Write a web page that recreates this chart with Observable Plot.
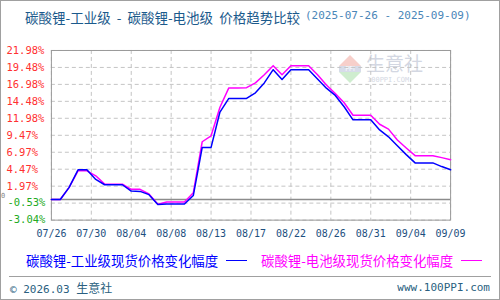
<!DOCTYPE html>
<html><head><meta charset="utf-8">
<script src="https://cdn.jsdelivr.net/npm/d3@7"></script>
<script src="https://cdn.jsdelivr.net/npm/@observablehq/plot@0.6"></script>
<style>
body{margin:0;background:#fff;}
#wrap{position:relative;width:500px;height:300px;box-sizing:border-box;border:1px solid #a0a0a0;overflow:hidden;font-family:"Noto Sans CJK SC",sans-serif;}
.abs{position:absolute;white-space:nowrap;}
#t1{left:24px;top:6px;font-size:13.5px;color:#1b5a8c;word-spacing:3px;}
#t2{left:304px;top:8px;font-family:"DejaVu Sans Mono",monospace;font-size:11px;color:#4a86b8;}
#chart{position:absolute;left:-1px;top:39px;}
.lg{top:249px;font-size:13.4px;}
.ln{top:259px;width:21px;height:0;border-top:1px solid;}
#sep{position:absolute;left:8px;right:8px;top:275px;border-top:1px solid #a0a0a0;}
#foot1{left:9px;top:278px;font-size:11px;color:#2a5f80;font-family:"DejaVu Sans Mono",monospace;}
#foot1 .c{font-family:"Noto Sans CJK SC";font-size:12px;}
#foot2{right:9px;top:280px;font-size:11px;color:#2a5f80;font-family:"DejaVu Sans Mono",monospace;}
#wm{position:absolute;left:338px;top:54px;opacity:0.55;}
#wm .up{position:absolute;left:0;top:0;width:0;height:0;border-left:11px solid transparent;border-right:11px solid transparent;border-bottom:11px solid #f2a8a0;}
#wm .box{position:absolute;left:0;top:11px;width:22px;height:6px;background:#b8c0d8;font-size:6px;color:#fff;text-align:center;line-height:6px;}
#wm .dn{position:absolute;left:0;top:17px;width:0;height:0;border-left:11px solid transparent;border-right:11px solid transparent;border-top:11px solid #a8e0a8;}
#wm .t{position:absolute;left:27px;top:-3px;font-size:19px;line-height:22px;color:#b0b8cc;white-space:nowrap;}
#wm .s{position:absolute;left:28px;top:21px;font-size:7px;line-height:8px;color:#b0b8cc;font-family:"DejaVu Sans Mono";white-space:nowrap;}
</style></head>
<body>
<div id="wrap">
<div id="t1" class="abs">碳酸锂-工业级 - 碳酸锂-电池级 价格趋势比较</div>
<div id="t2" class="abs">(2025-07-26 - 2025-09-09)</div>
<div id="wm"><div class="up"></div><div class="box">PPI</div><div class="dn"></div><div class="t">生意社</div><div class="s">100PPI.COM</div></div>
<div id="chart"></div>
<div class="abs lg" style="left:25px;color:#0000ff">碳酸锂-工业级现货价格变化幅度</div>
<div class="abs ln" style="left:225px;border-color:#0000ff"></div>
<div class="abs lg" style="left:260px;color:#ff00ff">碳酸锂-电池级现货价格变化幅度</div>
<div class="abs ln" style="left:460px;border-color:#ff00ff"></div>
<div id="sep"></div>
<div id="foot1" class="abs">© 2026.03 <span class="c">生意社</span></div>
<div id="foot2" class="abs">www.100PPI.com</div>
</div>
<script>
const dates = ["07/26","07/27","07/28","07/29","07/30","07/31","08/01","08/02","08/03","08/04","08/05","08/06","08/07","08/08","08/09","08/10","08/11","08/12","08/13","08/14","08/15","08/16","08/17","08/18","08/19","08/20","08/21","08/22","08/23","08/24","08/25","08/26","08/27","08/28","08/29","08/30","08/31","09/01","09/02","09/03","09/04","09/05","09/06","09/07","09/08","09/09"];
const industrial = [0,0,1.8,4.38,4.38,2.96,2.18,2.18,2.18,1.25,1.2,0.72,-0.74,-0.66,-0.66,-0.66,0.6,7.69,7.69,12.9,14.91,14.91,14.91,15.73,17.2,19.15,17.69,19.15,19.15,19.15,17.78,16.42,15.35,13.68,11.75,11.75,11.75,10.27,9.25,7.93,6.62,5.4,5.4,5.4,4.86,4.38];
const battery = [0,0,1.8,4.23,4.23,3.5,2.27,2.27,2.27,1.5,1.5,0.81,-0.7,-0.36,-0.36,-0.36,1.0,8.52,9.4,13.6,16.46,16.46,16.5,17.2,18.4,19.74,18.4,19.74,19.74,19.74,18.4,16.9,15.64,14.27,12.43,12.43,12.43,11.1,10.38,8.77,7.6,6.47,6.47,6.47,6.18,5.88];
const xTickLabels = ["07/26","07/30","08/04","08/08","08/13","08/17","08/22","08/26","08/31","09/04","09/09"];
const yTickLabels = ["-3.04%","-0.53%","1.97%","4.47%","6.97%","9.47%","11.98%","14.48%","16.98%","19.48%","21.98%"];

const data = dates.map((d,i)=>({i, d, ind: industrial[i], bat: battery[i]}));
const n = dates.length - 1;
const xTicks = xTickLabels.map((l,k)=>({pos: k*n/(xTickLabels.length-1), label: l}));
const yTicks = yTickLabels.map(l=>({v: parseFloat(l), label: l}));
const mono = "DejaVu Sans Mono, monospace";

const chart = Plot.plot({
  width: 500, height: 210,
  marginTop: 10, marginBottom: 30, marginLeft: 51, marginRight: 49,
  x: {domain: [0, n], axis: null},
  y: {domain: [yTicks[0].v, yTicks[yTicks.length-1].v], axis: null},
  style: {background: "transparent", overflow: "visible"},
  marks: [
    Plot.gridY(yTicks.map(t=>t.v), {stroke: "#c4c4c4", strokeOpacity: 1, strokeDasharray: "4,3"}),
    Plot.gridX(xTicks.map(t=>t.pos), {stroke: "#c4c4c4", strokeOpacity: 1, strokeDasharray: "4,3"}),
    Plot.ruleY([0], {stroke: "#8c8c8c", strokeWidth: 1.5}),
    Plot.frame({stroke: "#9a9a9a"}),
    Plot.line(data, {x: "i", y: "bat", stroke: "#ff00ff", strokeWidth: 1.5}),
    Plot.line(data, {x: "i", y: "ind", stroke: "#0000ff", strokeWidth: 1.5}),
    Plot.text(yTicks.filter(t=>t.v>=0), {y: "v", text: "label", frameAnchor: "left", dx: -45, textAnchor: "start", fill: "#ff3030", fontSize: 10.5, fontFamily: mono}),
    Plot.text(yTicks.filter(t=>t.v<0), {y: "v", text: "label", frameAnchor: "left", dx: -44, textAnchor: "start", fill: "#22aa22", fontSize: 10.5, fontFamily: mono}),
    Plot.text([0], {y: d=>d, text: ["0"], frameAnchor: "left", dx: -50.5, dy: -4, textAnchor: "start", fill: "#888", fontSize: 7, fontFamily: mono}),
    Plot.text(xTicks, {x: "pos", text: "label", frameAnchor: "bottom", dy: 17, fill: "#1d4f80", fontSize: 10, fontFamily: mono})
  ]
});
document.getElementById("chart").appendChild(chart);
</script>
</body></html>
